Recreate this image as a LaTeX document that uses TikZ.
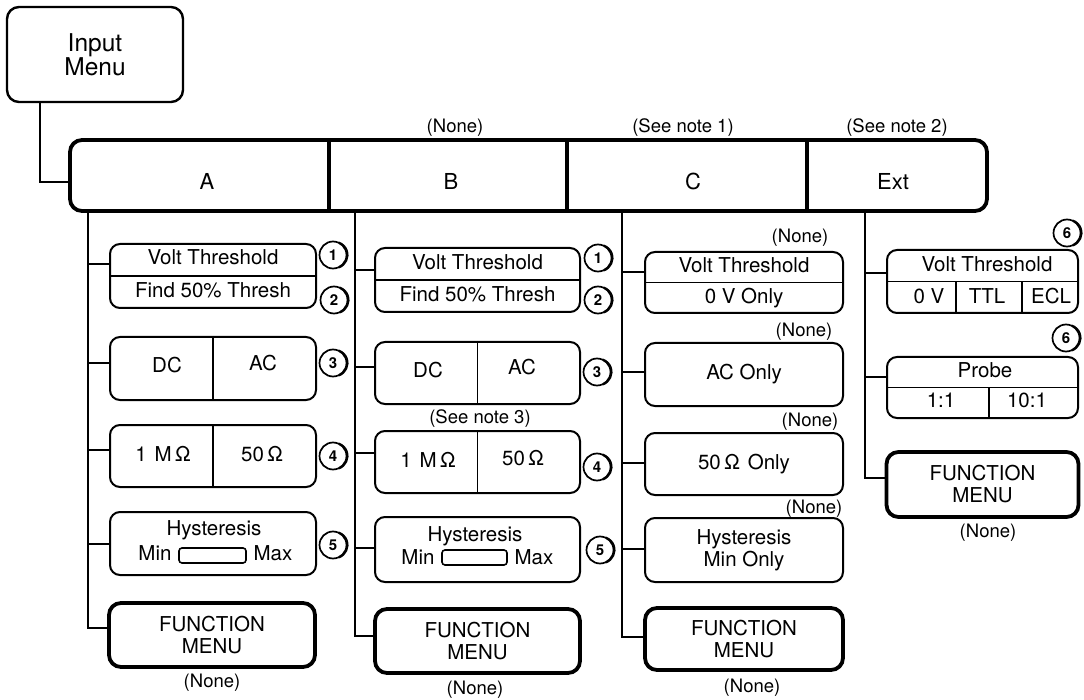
\documentclass[tikz,border=0pt]{standalone}
\usepackage{fontspec}
\setmainfont{TeX Gyre Heros}
\newcommand\fntbox{\fontsize{20.5}{22}\selectfont}
\newcommand\fntnote{\fontsize{18.5}{20}\selectfont}
\newcommand\fnthdr{\fontsize{22}{24}\selectfont}
\newcommand\fntin{\fontsize{24.5}{22}\selectfont}
\newcommand\fntnum{\fontsize{15}{15}\selectfont\bfseries}
\begin{document}
\begin{tikzpicture}[x=1pt,y=-1pt,
  box/.style={draw, line width=2pt, rounded corners=10pt, inner sep=0pt, font=\fntbox, align=center},
  fm/.style={box, line width=3.8pt, rounded corners=12pt},
  conn/.style={line width=2pt},
  div/.style={line width=1.6pt},
  t/.style={font=\fntbox, inner sep=0pt, text height=14.5pt, text depth=3.5pt},
  note/.style={font=\fntnote, inner sep=0pt},
  hl/.style={font=\fnthdr, inner sep=0pt, text height=15.5pt, text depth=0pt},
  num/.style={circle, draw, line width=1.7pt, minimum size=27pt, inner sep=0pt, outer sep=0pt, font=\fntnum},
  slider/.style={draw, line width=1.6pt, rounded corners=3pt, minimum height=15pt, inner sep=0pt}
]
\useasboundingbox (0,0) rectangle (1084,700);

% ---------- Input menu and header ----------
\node[box, line width=2.4pt, rounded corners=12pt, minimum width=176pt, minimum height=95pt, font=\fntin] (inp) at (95,54.5) {Input\\Menu};
\node[box, line width=3.8pt, rounded corners=12pt, minimum width=917pt, minimum height=71pt] (hdr) at (528.5,175.5) {};
\draw[line width=3.6pt] (329,0 |- hdr.north) -- (329,0 |- hdr.south);
\draw[line width=3.6pt] (567,0 |- hdr.north) -- (567,0 |- hdr.south);
\draw[line width=3.6pt] (807,0 |- hdr.north) -- (807,0 |- hdr.south);
\node[hl] (hA) at (207,182) {A};
\node[hl] (hB) at (451,182) {B};
\node[hl] (hC) at (693,182) {C};
\node[hl] (hE) at (893,182) {Ext};
\node[note] (nB) at (455,128) {(None)};
\node[note] (nC) at (683,128) {(See note 1)};
\node[note] (nE) at (897,128) {(See note 2)};
\coordinate (inb) at (40,0 |- inp.south);
\coordinate (hin) at ([yshift=-6.5pt]hdr.west);
\draw[conn] (inb) |- (hin);

% ---------- Column A ----------
\node[box, minimum width=206pt, minimum height=64pt] (aVT) at (213,276) {};
\draw[div] (aVT.west) -- (aVT.east);
\node[t] (aVT1) at (213,259.5) {Volt Threshold};
\node[t] (aVT2) at (213,292) {Find 50\% Thresh};
\node[box, minimum width=206pt, minimum height=63pt] (aDC) at (213,368.5) {};
\draw[div] (aDC.north) -- (aDC.south);
\node[t] (aDC1) at (167,367) {DC};
\node[t] (aDC2) at (263,365) {AC};
\node[box, minimum width=206pt, minimum height=62pt] (aR) at (213,456) {};
\draw[div] (aR.north) -- (aR.south);
\node[t] (aR1) at (163,456) {1\hspace{8pt}M\,Ω};
\node[t] (aR2) at (262,456) {50\,Ω};
\node[box, minimum width=206pt, minimum height=63pt] (aH) at (213,543.5) {};
\node[t] (aH1) at (214,530) {Hysteresis};
\node[t] (aH2) at (155,555) {Min};
\node[slider, minimum width=67pt] (aS) at (212.5,555.5) {};
\node[t] (aH3) at (273,555) {Max};
\node[fm, minimum width=206pt, minimum height=64pt] (aFM) at (212,635) {FUNCTION\\MENU};
\node[note] (aN) at (212,683) {(None)};
\node[num] (a1c) at (333,255) {1};
\node[num] (a2c) at (334,300) {2};
\node[num] (a3c) at (333,363) {3};
\node[num] (a4c) at (333,456) {4};
\node[num] (a5c) at (333,545) {5};
\coordinate (ta) at (88,0 |- hdr.south);
\coordinate (aVTi) at ([yshift=12pt]aVT.west);
\coordinate (aDCi) at ([yshift=5pt]aDC.west);
\coordinate (aRi) at ([yshift=6pt]aR.west);
\coordinate (aHi) at (aH.west);
\coordinate (aFMi) at ([yshift=7pt]aFM.west);
\draw[conn] (ta) |- (aFMi);
\foreach \n in {aVTi,aDCi,aRi,aHi} \draw[conn] (ta |- \n) -- (\n);

% ---------- Column B ----------
\node[box, minimum width=205pt, minimum height=64pt] (bVT) at (477.5,280) {};
\draw[div] (bVT.west) -- (bVT.east);
\node[t] (bVT1) at (477.5,264) {Volt Threshold};
\node[t] (bVT2) at (477.5,296) {Find 50\% Thresh};
\node[box, minimum width=205pt, minimum height=62pt] (bDC) at (477.5,373) {};
\draw[div] (bDC.north) -- (bDC.south);
\node[t] (bDC1) at (428,372) {DC};
\node[t] (bDC2) at (522,369) {AC};
\node[note] (bN3) at (480,419) {(See note 3)};
\node[box, minimum width=205pt, minimum height=62pt] (bR) at (477.5,462) {};
\draw[div] (bR.north) -- (bR.south);
\node[t] (bR1) at (428,462) {1\hspace{8pt}M\,Ω};
\node[t] (bR2) at (523,460) {50\,Ω};
\node[box, minimum width=205pt, minimum height=65pt] (bH) at (477.5,549.5) {};
\node[t] (bH1) at (475,536) {Hysteresis};
\node[t] (bH2) at (418,559) {Min};
\node[slider, minimum width=65pt] (bS) at (474.5,557.5) {};
\node[t] (bH3) at (534,559) {Max};
\node[fm, minimum width=205pt, minimum height=64pt] (bFM) at (477.5,641) {FUNCTION\\MENU};
\node[note] (bN) at (475,690) {(None)};
\node[num] (b1c) at (598,258) {1};
\node[num] (b2c) at (598,300) {2};
\node[num] (b3c) at (597,372) {3};
\node[num] (b4c) at (597,467) {4};
\node[num] (b5c) at (600,550) {5};
\coordinate (tb) at (355,0 |- hdr.south);
\coordinate (bVTi) at ([yshift=10pt]bVT.west);
\coordinate (bDCi) at ([yshift=6pt]bDC.west);
\coordinate (bRi) at ([yshift=9pt]bR.west);
\coordinate (bHi) at ([yshift=2pt]bH.west);
\coordinate (bFMi) at ([yshift=5pt]bFM.west);
\draw[conn] (tb) |- (bFMi);
\foreach \n in {bVTi,bDCi,bRi,bHi} \draw[conn] (tb |- \n) -- (\n);

% ---------- Column C ----------
\node[note] (cN1) at (800,238) {(None)};
\node[box, minimum width=198pt, minimum height=61pt] (cVT) at (744,282.5) {};
\draw[div] (cVT.west) -- (cVT.east);
\node[t] (cVT1) at (744,267) {Volt Threshold};
\node[t] (cVT2) at (744,298) {0 V Only};
\node[note] (cN2) at (804,332) {(None)};
\node[box, minimum width=198pt, minimum height=63pt] (cAC) at (744,374.5) {AC Only};
\node[note] (cN3) at (810,422) {(None)};
\node[box, minimum width=198pt, minimum height=62pt] (cR) at (744,464) {50\,Ω\hspace{8pt}Only};
\node[note] (cN4) at (814,509) {(None)};
\node[box, minimum width=198pt, minimum height=64pt] (cH) at (744,550) {Hysteresis\\Min Only};
\node[fm, minimum width=198pt, minimum height=62pt] (cFM) at (744,639) {FUNCTION\\MENU};
\node[note] (cN) at (752,688) {(None)};
\coordinate (tc) at (622,0 |- hdr.south);
\coordinate (cVTi) at ([yshift=10pt]cVT.west);
\coordinate (cACi) at ([yshift=2pt]cAC.west);
\coordinate (cRi) at ([yshift=1pt]cR.west);
\coordinate (cHi) at ([yshift=1pt]cH.west);
\coordinate (cFMi) at ([yshift=2pt]cFM.west);
\draw[conn] (tc) |- (cFMi);
\foreach \n in {cVTi,cACi,cRi,cHi} \draw[conn] (tc |- \n) -- (\n);

% ---------- Column Ext ----------
\node[box, minimum width=191pt, minimum height=63pt] (eVT) at (982.5,281.5) {};
\draw[div] (eVT.west) -- (eVT.east);
\draw[div] (956,0 |- eVT.center) -- (956,0 |- eVT.south);
\draw[div] (1022,0 |- eVT.center) -- (1022,0 |- eVT.south);
\node[t] (eVT1) at (987,266) {Volt Threshold};
\node[t] (eVT2) at (929,298) {0 V};
\node[t] (eVT3) at (987,298) {TTL};
\node[t] (eVT4) at (1051,298) {ECL};
\node[box, minimum width=191pt, minimum height=61pt] (eP) at (982.5,387.5) {};
\draw[div] (eP.west) -- (eP.east);
\draw[div] (989,0 |- eP.center) -- (989,0 |- eP.south);
\node[t] (eP1) at (985,372) {Probe};
\node[t] (eP2) at (941,402) {1:1};
\node[t] (eP3) at (1027,402) {10:1};
\node[fm, minimum width=192pt, minimum height=65pt] (eFM) at (982.5,484.5) {FUNCTION\\MENU};
\node[note] (eN) at (988,533) {(None)};
\node[num] (e1c) at (1067,233) {6};
\node[num] (e2c) at (1066,338) {6};
\coordinate (te) at (865,0 |- hdr.south);
\coordinate (eVTi) at ([yshift=8pt]eVT.west);
\coordinate (ePi) at ([yshift=10pt]eP.west);
\coordinate (eFMi) at ([yshift=7pt]eFM.west);
\draw[conn] (te) |- (eFMi);
\foreach \n in {eVTi,ePi} \draw[conn] (te |- \n) -- (\n);

% ---------- shadows of the circled numbers ----------
\foreach \n in {a1c,a2c,a3c,a4c,a5c,b1c,b2c,b3c,b4c,b5c,e1c,e2c}
  \draw[line width=1.5pt] ([xshift=1.3pt]\n.-70) arc[start angle=-70, end angle=70, radius=13.5pt];
\end{tikzpicture}
\end{document}
